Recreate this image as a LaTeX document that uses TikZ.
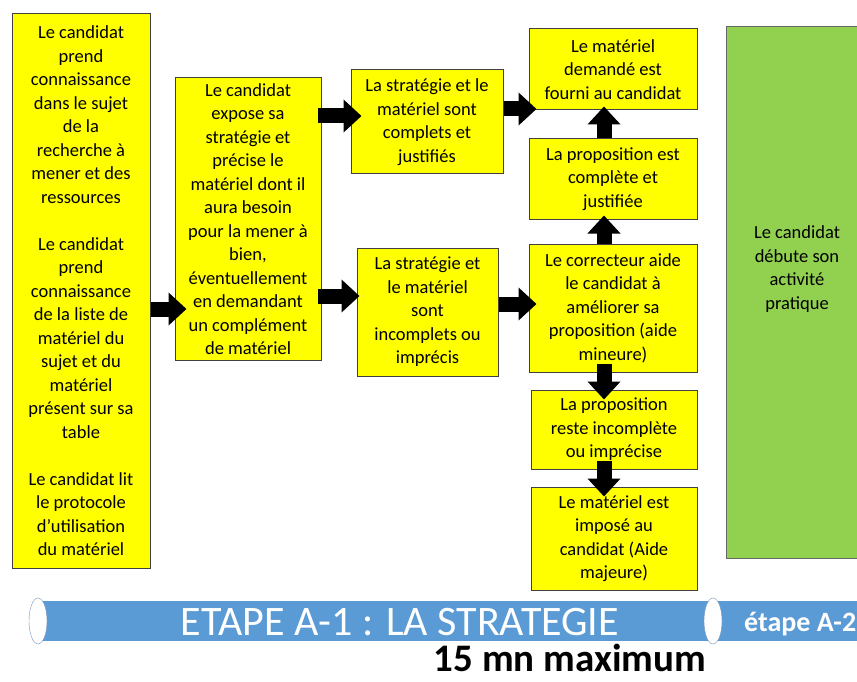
\documentclass[tikz,border=0pt]{standalone}
\usepackage{fontspec}
\setmainfont{Carlito}
\usetikzlibrary{arrows.meta}
\definecolor{boxyellow}{RGB}{255,255,0}
\definecolor{actgreen}{RGB}{146,208,80}
\definecolor{barblue}{RGB}{91,155,213}
\definecolor{capline}{RGB}{120,150,190}

\begin{document}
\begin{tikzpicture}[x=1pt,y=-1pt,
	stepbox/.style={draw=black!75, line width=1pt, fill=boxyellow, align=center, inner sep=2pt, font=\fontsize{18.5pt}{23.5pt}\selectfont},
	bigarrow/.style={line width=15pt, -{Triangle[length=18pt,width=32pt]}},
	bartext/.style={text=white, inner sep=0pt}]
		\useasboundingbox (0,0) rectangle (857,682);
		\clip (0,0) rectangle (857,682);
		
		\node[stepbox, minimum width=138pt, minimum height=554pt] (b1) at (81,291) {Le candidat\\prend\\connaissance\\dans le sujet\\de la\\recherche à\\mener et des\\ressources\\[23.5pt]Le candidat\\prend\\connaissance\\de la liste de\\matériel du\\sujet et du\\matériel\\présent sur sa\\table\\[23.5pt]Le candidat lit\\le protocole\\d’utilisation\\du matériel};
		\node[stepbox, minimum width=146pt, minimum height=282pt] (b2) at (248,219) {Le candidat\\expose sa\\stratégie et\\précise le\\matériel dont il\\aura besoin\\pour la mener à\\bien,\\éventuellement\\en demandant\\un complément\\de matériel};
		
		\node[stepbox, minimum width=152pt, minimum height=104pt] (b3) at (427,122) {La stratégie et le\\matériel sont\\complets et\\justifiés};
		\node[stepbox, minimum width=141pt, minimum height=128pt] (b4) at (427.5,312) {La stratégie et\\le matériel\\sont\\incomplets ou\\imprécis};
		
		\node[stepbox, minimum width=168pt, minimum height=81pt] (b5) at (613,69.5) {Le matériel\\demandé est\\fourni au candidat};
		\node[stepbox, minimum width=168pt, minimum height=80pt] (b6) at (613,179) {La proposition est\\complète et\\justifiée};
		\node[stepbox, minimum width=168pt, minimum height=128pt] (b7) at (613,308) {Le correcteur aide\\le candidat à\\améliorer sa\\proposition (aide\\mineure)};
		\node[stepbox, minimum width=166pt, minimum height=79pt] (b8) at (614,429.5) {La proposition\\reste incomplète\\ou imprécise};
		\node[stepbox, minimum width=166pt, minimum height=103pt] (b9) at (614,538.5) {Le matériel est\\imposé au\\candidat (Aide\\majeure)};
		
		\node[draw=black!60, line width=1pt, fill=actgreen, minimum width=142pt, minimum height=531pt] (act) at (797,292.5) {};
		\node[align=center, font=\fontsize{18.5pt}{23.5pt}\selectfont] (acttext) at (797,269) {Le candidat\\débute son\\activité\\pratique};
		
		% fleches
		\draw[bigarrow, shorten >=-12pt] ([yshift=-18pt]b1.east) -- ([yshift=-90pt]b2.west);
		\draw[bigarrow, shorten <=-4pt, shorten >=-11pt] ([yshift=103pt]b2.east) -- ([yshift=6pt]b3.west);
		\draw[bigarrow, shorten <=-4pt, shorten >=-3pt] ([yshift=-77pt]b2.east) -- ([yshift=16pt]b4.west);
		\draw[bigarrow, shorten >=-8pt] ([yshift=13pt]b3.east) -- ([yshift=-39.5pt]b5.west);
		\draw[bigarrow, shorten >=-8pt] ([yshift=8pt]b4.east) -- ([yshift=4pt]b7.west);
		\draw[bigarrow, shorten >=-4pt] ([xshift=-9pt]b7.north) -- ([xshift=-9pt]b6.south);
		\draw[bigarrow, shorten >=-4pt] ([xshift=-9pt]b6.north) -- ([xshift=-9pt]b5.south);
		\draw[bigarrow, shorten <=-9pt, shorten >=-10pt] ([xshift=-9pt]b7.south) -- ([xshift=-10pt]b8.north);
		\draw[bigarrow, shorten <=-9pt, shorten >=-10pt] ([xshift=-10pt]b8.south) -- ([xshift=-10pt]b9.north);
		
		% barre des etapes
		\fill[barblue] (38,601) rectangle (880,641);
		\draw[capline, fill=white] (38,621) ellipse [x radius=9pt, y radius=23pt];
		\draw[capline, fill=white] (713,621) ellipse [x radius=9pt, y radius=23pt];
		\node[bartext, font=\fontsize{42pt}{44pt}\selectfont] (stepA) at (400,622) {ETAPE A-1 : LA STRATEGIE};
		\node[bartext, anchor=west, font=\bfseries\fontsize{28pt}{30pt}\selectfont] (stepB) at (744,624) {étape A-2};
		\node[inner sep=0pt, anchor=base, font=\bfseries\fontsize{39pt}{41pt}\selectfont] (duration) at (570,671) {15 mn maximum};
\end{tikzpicture}
\end{document}
